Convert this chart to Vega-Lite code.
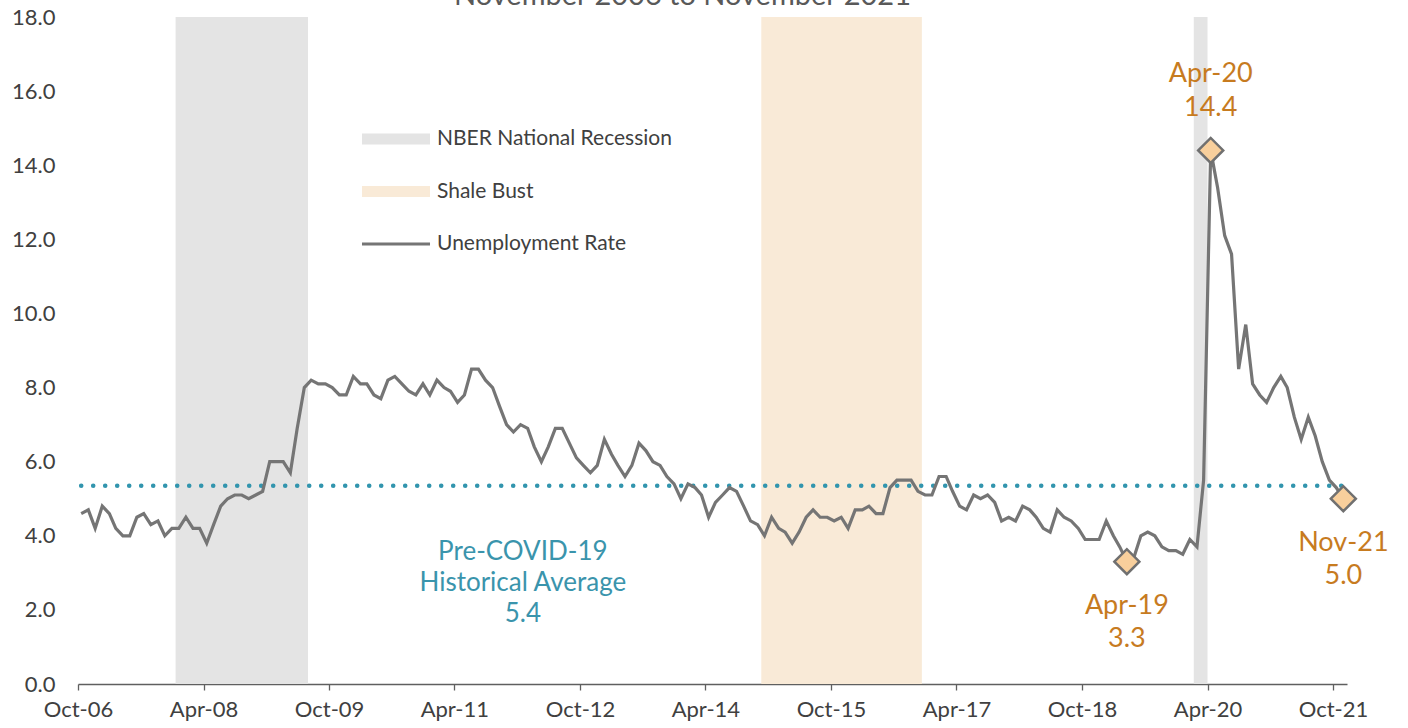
{
  "$schema": "https://vega.github.io/schema/vega-lite/v6.json",
  "width": 1269,
  "height": 667,
  "autosize": {"type": "none"},
  "padding": {"top": 17, "left": 78, "right": 61, "bottom": 44},
  "background": "white",
  "title": {
    "text": "November 2006 to November 2021",
    "fontSize": 29,
    "font": "Lato",
    "fontWeight": "normal",
    "color": "#595959",
    "anchor": "middle",
    "baseline": "alphabetic",
    "offset": -28,
    "dx": -30
  },
  "config": {
    "view": {"stroke": null},
    "font": "Lato"
  },
  "datasets": {
    "bands": [
      {"start": "2007-12-01", "end": "2009-07-01", "band": "NBER National Recession"},
      {"start": "2014-12-01", "end": "2016-11-01", "band": "Shale Bust"},
      {"start": "2020-02-01", "end": "2020-04-01", "band": "NBER National Recession"}
    ],
    "avg": [
      {"start": "2006-10-15", "end": "2021-11-15", "avg": 5.35, "labelDate": "2012-01-25", "label": ["Pre-COVID-19", "Historical Average", "5.4"]}
    ],
    "highlights": [
      {"date": "2019-04-15", "rate": 3.3, "label": ["Apr-19", "3.3"]},
      {"date": "2020-04-15", "rate": 14.4, "label": ["Apr-20", "14.4"]},
      {"date": "2021-11-15", "rate": 5.0, "label": ["Nov-21", "5.0"]}
    ],
    "ur": [
      {"date": "2006-10-15", "rate": 4.6}, {"date": "2006-11-15", "rate": 4.7}, {"date": "2006-12-15", "rate": 4.2},
      {"date": "2007-01-15", "rate": 4.8}, {"date": "2007-02-15", "rate": 4.6}, {"date": "2007-03-15", "rate": 4.2},
      {"date": "2007-04-15", "rate": 4.0}, {"date": "2007-05-15", "rate": 4.0}, {"date": "2007-06-15", "rate": 4.5},
      {"date": "2007-07-15", "rate": 4.6}, {"date": "2007-08-15", "rate": 4.3}, {"date": "2007-09-15", "rate": 4.4},
      {"date": "2007-10-15", "rate": 4.0}, {"date": "2007-11-15", "rate": 4.2}, {"date": "2007-12-15", "rate": 4.2},
      {"date": "2008-01-15", "rate": 4.5}, {"date": "2008-02-15", "rate": 4.2}, {"date": "2008-03-15", "rate": 4.2},
      {"date": "2008-04-15", "rate": 3.8}, {"date": "2008-05-15", "rate": 4.3}, {"date": "2008-06-15", "rate": 4.8},
      {"date": "2008-07-15", "rate": 5.0}, {"date": "2008-08-15", "rate": 5.1}, {"date": "2008-09-15", "rate": 5.1},
      {"date": "2008-10-15", "rate": 5.0}, {"date": "2008-11-15", "rate": 5.1}, {"date": "2008-12-15", "rate": 5.2},
      {"date": "2009-01-15", "rate": 6.0}, {"date": "2009-02-15", "rate": 6.0}, {"date": "2009-03-15", "rate": 6.0},
      {"date": "2009-04-15", "rate": 5.7}, {"date": "2009-05-15", "rate": 6.9}, {"date": "2009-06-15", "rate": 8.0},
      {"date": "2009-07-15", "rate": 8.2}, {"date": "2009-08-15", "rate": 8.1}, {"date": "2009-09-15", "rate": 8.1},
      {"date": "2009-10-15", "rate": 8.0}, {"date": "2009-11-15", "rate": 7.8}, {"date": "2009-12-15", "rate": 7.8},
      {"date": "2010-01-15", "rate": 8.3}, {"date": "2010-02-15", "rate": 8.1}, {"date": "2010-03-15", "rate": 8.1},
      {"date": "2010-04-15", "rate": 7.8}, {"date": "2010-05-15", "rate": 7.7}, {"date": "2010-06-15", "rate": 8.2},
      {"date": "2010-07-15", "rate": 8.3}, {"date": "2010-08-15", "rate": 8.1}, {"date": "2010-09-15", "rate": 7.9},
      {"date": "2010-10-15", "rate": 7.8}, {"date": "2010-11-15", "rate": 8.1}, {"date": "2010-12-15", "rate": 7.8},
      {"date": "2011-01-15", "rate": 8.2}, {"date": "2011-02-15", "rate": 8.0}, {"date": "2011-03-15", "rate": 7.9},
      {"date": "2011-04-15", "rate": 7.6}, {"date": "2011-05-15", "rate": 7.8}, {"date": "2011-06-15", "rate": 8.5},
      {"date": "2011-07-15", "rate": 8.5}, {"date": "2011-08-15", "rate": 8.2}, {"date": "2011-09-15", "rate": 8.0},
      {"date": "2011-10-15", "rate": 7.5}, {"date": "2011-11-15", "rate": 7.0}, {"date": "2011-12-15", "rate": 6.8},
      {"date": "2012-01-15", "rate": 7.0}, {"date": "2012-02-15", "rate": 6.9}, {"date": "2012-03-15", "rate": 6.4},
      {"date": "2012-04-15", "rate": 6.0}, {"date": "2012-05-15", "rate": 6.4}, {"date": "2012-06-15", "rate": 6.9},
      {"date": "2012-07-15", "rate": 6.9}, {"date": "2012-08-15", "rate": 6.5}, {"date": "2012-09-15", "rate": 6.1},
      {"date": "2012-10-15", "rate": 5.9}, {"date": "2012-11-15", "rate": 5.7}, {"date": "2012-12-15", "rate": 5.9},
      {"date": "2013-01-15", "rate": 6.6}, {"date": "2013-02-15", "rate": 6.2}, {"date": "2013-03-15", "rate": 5.9},
      {"date": "2013-04-15", "rate": 5.6}, {"date": "2013-05-15", "rate": 5.9}, {"date": "2013-06-15", "rate": 6.5},
      {"date": "2013-07-15", "rate": 6.3}, {"date": "2013-08-15", "rate": 6.0}, {"date": "2013-09-15", "rate": 5.9},
      {"date": "2013-10-15", "rate": 5.6}, {"date": "2013-11-15", "rate": 5.4}, {"date": "2013-12-15", "rate": 5.0},
      {"date": "2014-01-15", "rate": 5.4}, {"date": "2014-02-15", "rate": 5.3}, {"date": "2014-03-15", "rate": 5.1},
      {"date": "2014-04-15", "rate": 4.5}, {"date": "2014-05-15", "rate": 4.9}, {"date": "2014-06-15", "rate": 5.1},
      {"date": "2014-07-15", "rate": 5.3}, {"date": "2014-08-15", "rate": 5.2}, {"date": "2014-09-15", "rate": 4.8},
      {"date": "2014-10-15", "rate": 4.4}, {"date": "2014-11-15", "rate": 4.3}, {"date": "2014-12-15", "rate": 4.0},
      {"date": "2015-01-15", "rate": 4.5}, {"date": "2015-02-15", "rate": 4.2}, {"date": "2015-03-15", "rate": 4.1},
      {"date": "2015-04-15", "rate": 3.8}, {"date": "2015-05-15", "rate": 4.1}, {"date": "2015-06-15", "rate": 4.5},
      {"date": "2015-07-15", "rate": 4.7}, {"date": "2015-08-15", "rate": 4.5}, {"date": "2015-09-15", "rate": 4.5},
      {"date": "2015-10-15", "rate": 4.4}, {"date": "2015-11-15", "rate": 4.5}, {"date": "2015-12-15", "rate": 4.2},
      {"date": "2016-01-15", "rate": 4.7}, {"date": "2016-02-15", "rate": 4.7}, {"date": "2016-03-15", "rate": 4.8},
      {"date": "2016-04-15", "rate": 4.6}, {"date": "2016-05-15", "rate": 4.6}, {"date": "2016-06-15", "rate": 5.3},
      {"date": "2016-07-15", "rate": 5.5}, {"date": "2016-08-15", "rate": 5.5}, {"date": "2016-09-15", "rate": 5.5},
      {"date": "2016-10-15", "rate": 5.2}, {"date": "2016-11-15", "rate": 5.1}, {"date": "2016-12-15", "rate": 5.1},
      {"date": "2017-01-15", "rate": 5.6}, {"date": "2017-02-15", "rate": 5.6}, {"date": "2017-03-15", "rate": 5.2},
      {"date": "2017-04-15", "rate": 4.8}, {"date": "2017-05-15", "rate": 4.7}, {"date": "2017-06-15", "rate": 5.1},
      {"date": "2017-07-15", "rate": 5.0}, {"date": "2017-08-15", "rate": 5.1}, {"date": "2017-09-15", "rate": 4.9},
      {"date": "2017-10-15", "rate": 4.4}, {"date": "2017-11-15", "rate": 4.5}, {"date": "2017-12-15", "rate": 4.4},
      {"date": "2018-01-15", "rate": 4.8}, {"date": "2018-02-15", "rate": 4.7}, {"date": "2018-03-15", "rate": 4.5},
      {"date": "2018-04-15", "rate": 4.2}, {"date": "2018-05-15", "rate": 4.1}, {"date": "2018-06-15", "rate": 4.7},
      {"date": "2018-07-15", "rate": 4.5}, {"date": "2018-08-15", "rate": 4.4}, {"date": "2018-09-15", "rate": 4.2},
      {"date": "2018-10-15", "rate": 3.9}, {"date": "2018-11-15", "rate": 3.9}, {"date": "2018-12-15", "rate": 3.9},
      {"date": "2019-01-15", "rate": 4.4}, {"date": "2019-02-15", "rate": 4.0}, {"date": "2019-03-15", "rate": 3.7},
      {"date": "2019-04-15", "rate": 3.3}, {"date": "2019-05-15", "rate": 3.4}, {"date": "2019-06-15", "rate": 4.0},
      {"date": "2019-07-15", "rate": 4.1}, {"date": "2019-08-15", "rate": 4.0}, {"date": "2019-09-15", "rate": 3.7},
      {"date": "2019-10-15", "rate": 3.6}, {"date": "2019-11-15", "rate": 3.6}, {"date": "2019-12-15", "rate": 3.5},
      {"date": "2020-01-15", "rate": 3.9}, {"date": "2020-02-15", "rate": 3.7}, {"date": "2020-03-15", "rate": 5.5},
      {"date": "2020-04-15", "rate": 14.4}, {"date": "2020-05-15", "rate": 13.4}, {"date": "2020-06-15", "rate": 12.1},
      {"date": "2020-07-15", "rate": 11.6}, {"date": "2020-08-15", "rate": 8.5}, {"date": "2020-09-15", "rate": 9.7},
      {"date": "2020-10-15", "rate": 8.1}, {"date": "2020-11-15", "rate": 7.8}, {"date": "2020-12-15", "rate": 7.6},
      {"date": "2021-01-15", "rate": 8.0}, {"date": "2021-02-15", "rate": 8.3}, {"date": "2021-03-15", "rate": 8.0},
      {"date": "2021-04-15", "rate": 7.2}, {"date": "2021-05-15", "rate": 6.6}, {"date": "2021-06-15", "rate": 7.2},
      {"date": "2021-07-15", "rate": 6.7}, {"date": "2021-08-15", "rate": 6.0}, {"date": "2021-09-15", "rate": 5.5},
      {"date": "2021-10-15", "rate": 5.3}, {"date": "2021-11-15", "rate": 5.0}
    ]
  },
  "layer": [
    {
      "data": {"name": "bands"},
      "mark": {"type": "rect"},
      "encoding": {
        "x": {
          "field": "start",
          "type": "temporal",
          "scale": {
            "type": "utc",
            "domain": [
              {"year": 2006, "month": 10, "date": 1, "utc": true},
              {"year": 2021, "month": 12, "date": 1, "utc": true}
            ]
          },
          "axis": {
            "title": null,
            "values": [
              {"year": 2006, "month": 10, "date": 1, "utc": true},
              {"year": 2008, "month": 4, "date": 1, "utc": true},
              {"year": 2009, "month": 10, "date": 1, "utc": true},
              {"year": 2011, "month": 4, "date": 1, "utc": true},
              {"year": 2012, "month": 10, "date": 1, "utc": true},
              {"year": 2014, "month": 4, "date": 1, "utc": true},
              {"year": 2015, "month": 10, "date": 1, "utc": true},
              {"year": 2017, "month": 4, "date": 1, "utc": true},
              {"year": 2018, "month": 10, "date": 1, "utc": true},
              {"year": 2020, "month": 4, "date": 1, "utc": true},
              {"year": 2021, "month": 10, "date": 1, "utc": true}
            ],
            "labelExpr": "utcFormat(datum.value, '%b-%y')",
            "grid": false,
            "domainColor": "#5f5f5f",
            "domainWidth": 1.3,
            "tickColor": "#5f5f5f",
            "tickSize": 6,
            "tickWidth": 1.3,
            "labelFontSize": 22,
            "labelFont": "Lato",
            "labelColor": "#404040",
            "labelPadding": 9,
            "labelFlush": false,
            "labelOverlap": false
          }
        },
        "x2": {"field": "end"},
        "color": {
          "field": "band",
          "type": "nominal",
          "scale": {
            "domain": ["NBER National Recession", "Shale Bust", "Unemployment Rate"],
            "range": ["#e4e4e4", "#f9ead7", "#757575"]
          },
          "legend": {
            "orient": "none",
            "legendX": 303,
            "legendY": 107,
            "title": null,
            "symbolType": "M-2.267,-0.367L2.267,-0.367L2.267,0.367L-2.267,0.367Z",
            "symbolSize": 900,
            "symbolStrokeWidth": 0,
            "labelOffset": 26,
            "rowPadding": 27.5,
            "labelFontSize": 21,
            "labelFont": "Lato",
            "labelColor": "#404040",
            "labelLimit": 400,
            "encode": {
              "symbols": {
                "update": {
                  "shape": {"signal": "datum.value === 'Unemployment Rate' ? 'M-2.267,-0.1L2.267,-0.1L2.267,0.1L-2.267,0.1Z' : 'M-2.267,-0.367L2.267,-0.367L2.267,0.367L-2.267,0.367Z'"},
                  "fill": {"scale": "color", "field": "value"},
                  "stroke": {"value": "transparent"},
                  "opacity": {"value": 1},
                  "fillOpacity": {"value": 1}
                }
              }
            }
          }
        }
      }
    },
    {
      "data": {"name": "avg"},
      "mark": {"type": "rule", "color": "#3295ae", "strokeWidth": 4.6, "strokeDash": [0, 12], "strokeCap": "round"},
      "encoding": {
        "x": {"field": "start", "type": "temporal"},
        "x2": {"field": "end"},
        "y": {
          "field": "avg",
          "type": "quantitative",
          "scale": {"domain": [0, 18], "nice": false},
          "axis": {
            "title": null,
            "values": [0, 2, 4, 6, 8, 10, 12, 14, 16, 18],
            "format": ".1f",
            "grid": false,
            "domain": false,
            "ticks": false,
            "tickSize": 0,
            "labelPadding": 23,
            "labelFontSize": 22,
            "labelFont": "Lato",
            "labelColor": "#404040"
          }
        }
      }
    },
    {
      "data": {"name": "ur"},
      "mark": {"type": "line", "strokeWidth": 3.2, "strokeJoin": "miter"},
      "encoding": {
        "x": {"field": "date", "type": "temporal"},
        "y": {"field": "rate", "type": "quantitative"},
        "color": {"datum": "Unemployment Rate"}
      }
    },
    {
      "data": {"name": "avg"},
      "mark": {"type": "text", "baseline": "top", "align": "center", "dy": 53, "fontSize": 26, "font": "Lato", "color": "#3a94ac", "lineHeight": 31},
      "encoding": {
        "x": {"field": "labelDate", "type": "temporal"},
        "y": {"field": "avg", "type": "quantitative"},
        "text": {"field": "label"}
      }
    },
    {
      "data": {"name": "highlights"},
      "mark": {"type": "point", "shape": "diamond", "size": 625, "filled": true, "fill": "#f8cf9c", "stroke": "#707070", "strokeWidth": 2.5, "opacity": 1},
      "encoding": {
        "x": {"field": "date", "type": "temporal"},
        "y": {"field": "rate", "type": "quantitative"}
      }
    },
    {
      "data": {"name": "highlights"},
      "transform": [{"filter": "datum.rate > 10"}],
      "mark": {"type": "text", "baseline": "bottom", "align": "center", "dy": -62, "fontSize": 27, "font": "Lato", "color": "#c77b1f", "lineHeight": 34},
      "encoding": {
        "x": {"field": "date", "type": "temporal"},
        "y": {"field": "rate", "type": "quantitative"},
        "text": {"field": "label"}
      }
    },
    {
      "data": {"name": "highlights"},
      "transform": [{"filter": "datum.rate <= 10"}],
      "mark": {"type": "text", "baseline": "top", "align": "center", "dy": 31, "fontSize": 27, "font": "Lato", "color": "#c77b1f", "lineHeight": 33.5},
      "encoding": {
        "x": {"field": "date", "type": "temporal"},
        "y": {"field": "rate", "type": "quantitative"},
        "text": {"field": "label"}
      }
    }
  ]
}
